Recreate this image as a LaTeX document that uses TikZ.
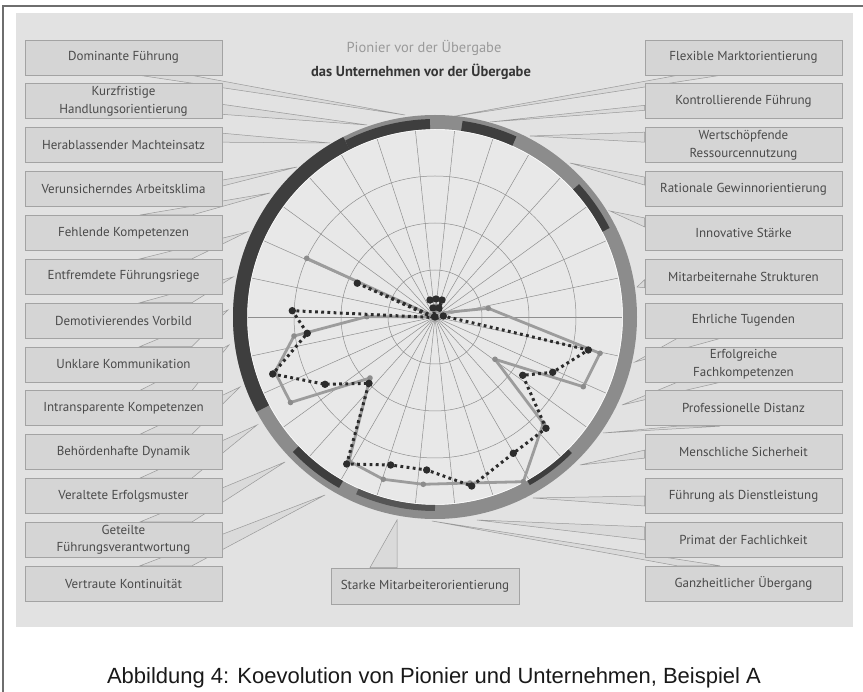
\documentclass[tikz,border=0pt]{standalone}
\usepackage{fontspec}
\setmainfont{PT Sans}
\newfontfamily\capfont{Liberation Sans}
\usetikzlibrary{calc}
\definecolor{framecol}{HTML}{6E6E6E}
\definecolor{panel}{HTML}{E2E2E2}
\definecolor{boxfill}{HTML}{D5D5D5}
\definecolor{boxline}{HTML}{A3A3A3}
\definecolor{tailfill}{HTML}{DADADA}
\definecolor{tailline}{HTML}{999999}
\definecolor{labeltext}{HTML}{4A4A4A}
\definecolor{face}{HTML}{E8E8E8}
\definecolor{gridcol}{HTML}{8E8E8E}
\definecolor{ringmid}{HTML}{8C8C8C}
\definecolor{ringdark}{HTML}{3E3E3E}
\definecolor{dotcol}{HTML}{2C2C2C}
\definecolor{graycol}{HTML}{9C9C9C}
\definecolor{titlegray}{HTML}{9A9A9A}
\definecolor{titledark}{HTML}{353535}
\pgfdeclarelayer{back}
\pgfdeclarelayer{tails}
\pgfsetlayers{back,tails,main}
\begin{document}
\begin{tikzpicture}[x=1pt,y=-1pt,
  labelbox/.style={draw=boxline, fill=boxfill, line width=0.8pt,
    minimum width=197pt, minimum height=35pt, inner sep=1pt, align=center,
    font=\fontsize{13}{17.5}\selectfont, text=labeltext},
  tailsty/.style={fill=tailfill, draw=tailline, line width=0.5pt},
  gridline/.style={draw=gridcol, line width=0.5pt},
  dotline/.style={draw=dotcol, line width=3pt, dash pattern=on 2.8pt off 3.4pt},
  grayline/.style={draw=graycol, line width=2.8pt, line join=round},
  darkdot/.style={fill=dotcol},
  graydot/.style={fill=graycol!90!black}]
\useasboundingbox (0,0) rectangle (863,692);
\clip (0,0) rectangle (863,692);

% frame and panel
\begin{pgfonlayer}{back}
  \draw[framecol, line width=1.3pt] (3,6) rectangle (890,720);
  \fill[panel] (16,13) rectangle (853,627);
\end{pgfonlayer}

% left column
\node[labelbox] (l1)  at (123.5,57.5)   {Dominante Führung};
\node[labelbox] (l2)  at (123.5,101.35) {Kurzfristige\\Handlungsorientierung};
\node[labelbox] (l3)  at (123.5,145.2)  {Herablassender Machteinsatz};
\node[labelbox] (l4)  at (123.5,189.05) {Verunsicherndes Arbeitsklima};
\node[labelbox] (l5)  at (123.5,232.9)  {Fehlende Kompetenzen};
\node[labelbox] (l6)  at (123.5,276.75) {Entfremdete Führungsriege};
\node[labelbox] (l7)  at (123.5,320.6)  {Demotivierendes Vorbild};
\node[labelbox] (l8)  at (123.5,364.45) {Unklare Kommunikation};
\node[labelbox] (l9)  at (123.5,408.3)  {Intransparente Kompetenzen};
\node[labelbox] (l10) at (123.5,452.15) {Behördenhafte Dynamik};
\node[labelbox] (l11) at (123.5,496)    {Veraltete Erfolgsmuster};
\node[labelbox] (l12) at (123.5,539.85) {Geteilte\\Führungsverantwortung};
\node[labelbox] (l13) at (123.5,583.7)  {Vertraute Kontinuität};

% right column
\node[labelbox] (r1)  at (743.5,57.5)   {Flexible Marktorientierung};
\node[labelbox] (r2)  at (743.5,101.35) {Kontrollierende Führung};
\node[labelbox] (r3)  at (743.5,145.2)  {Wertschöpfende\\Ressourcennutzung};
\node[labelbox] (r4)  at (743.5,189.05) {Rationale Gewinnorientierung};
\node[labelbox] (r5)  at (743.5,232.9)  {Innovative Stärke};
\node[labelbox] (r6)  at (743.5,276.75) {Mitarbeiternahe Strukturen};
\node[labelbox] (r7)  at (743.5,320.6)  {Ehrliche Tugenden};
\node[labelbox] (r8)  at (743.5,364.45) {Erfolgreiche\\Fachkompetenzen};
\node[labelbox] (r9)  at (743.5,408.3)  {Professionelle Distanz};
\node[labelbox] (r10) at (743.5,452.15) {Menschliche Sicherheit};
\node[labelbox] (r11) at (743.5,496)    {Führung als Dienstleistung};
\node[labelbox] (r12) at (743.5,539.85) {Primat der Fachlichkeit};
\node[labelbox] (r13) at (743.5,583.7)  {Ganzheitlicher Übergang};

% bottom label
\node[labelbox, minimum width=188pt, minimum height=36pt] (b) at (425,586) {Starke Mitarbeiterorientierung};

% pointer tips on the rim
\coordinate (tl1) at (405,115);  \coordinate (tl2) at (367,125);
\coordinate (tl3) at (330,143);  \coordinate (tl4) at (297,167);
\coordinate (tl5) at (270,193);  \coordinate (tl6) at (247,232);
\coordinate (tl7) at (233,277);  \coordinate (tl8) at (228,310);
\coordinate (tl9) at (229,345);  \coordinate (tl10) at (240,387);
\coordinate (tl11) at (257,425); \coordinate (tl12) at (285,462);
\coordinate (tl13) at (325,495);
\coordinate (tr1) at (450,117);  \coordinate (tr2) at (490,122);
\coordinate (tr3) at (530,136);  \coordinate (tr4) at (570,163);
\coordinate (tr5) at (610,211);  \coordinate (tr6) at (637,287);
\coordinate (tr7) at (635,362);  \coordinate (tr8) at (622,405);
\coordinate (tr9) at (603,433);  \coordinate (tr10) at (580,465);
\coordinate (tr11) at (533,498); \coordinate (tr12) at (477,520);
\coordinate (tr13) at (432,521);
\coordinate (tb) at (397,520);

% callout tails, kept behind the boxes
\begin{pgfonlayer}{tails}
  \filldraw[tailsty] ($(l1.south)+(16.5,0)$) -- ($(l1.south)+(68.5,0)$) -- (tl1) -- cycle;
  \filldraw[tailsty] ($(l2.east)+(0,3)$) -- ($(l2.east)+(0,13)$) -- (tl2) -- cycle;
  \filldraw[tailsty] ($(l3.east)+(0,-12)$) -- ($(l3.east)+(0,-3)$) -- (tl3) -- cycle;
  \filldraw[tailsty] ($(l4.east)+(0,-9)$) -- ($(l4.east)+(0,-3)$) -- (tl4) -- cycle;
  \foreach \i in {5,...,13}
    \filldraw[tailsty] ($(l\i.north)+(16.5,0)$) -- ($(l\i.north)+(68.5,0)$) -- (tl\i) -- cycle;
  \filldraw[tailsty] ($(r1.south)+(-66.5,0)$) -- ($(r1.south)+(-23.5,0)$) -- (tr1) -- cycle;
  \filldraw[tailsty] ($(r2.west)+(0,4)$) -- ($(r2.west)+(0,9)$) -- (tr2) -- cycle;
  \filldraw[tailsty] ($(r3.west)+(0,-13)$) -- ($(r3.west)+(0,-3)$) -- (tr3) -- cycle;
  \filldraw[tailsty] ($(r4.west)+(0,-12)$) -- ($(r4.west)+(0,-4)$) -- (tr4) -- cycle;
  \filldraw[tailsty] ($(r5.west)+(0,-15)$) -- ($(r5.west)+(0,-6)$) -- (tr5) -- cycle;
  \filldraw[tailsty] ($(r6.west)+(0,3)$) -- ($(r6.west)+(0,11)$) -- (tr6) -- cycle;
  \foreach \i in {7,8,9}
    \filldraw[tailsty] ($(r\i.south)+(-66.5,0)$) -- ($(r\i.south)+(-23.5,0)$) -- (tr\i) -- cycle;
  \filldraw[tailsty] ($(r10.west)+(0,-2)$) -- ($(r10.west)+(0,6)$) -- (tr10) -- cycle;
  \filldraw[tailsty] ($(r11.west)+(0,0)$) -- ($(r11.west)+(0,10)$) -- (tr11) -- cycle;
  \filldraw[tailsty] ($(r12.west)+(0,-13)$) -- ($(r12.west)+(0,0)$) -- (tr12) -- cycle;
  \filldraw[tailsty] ($(r13.north)+(-66.5,0)$) -- ($(r13.north)+(-23.5,0)$) -- (tr13) -- cycle;
  \filldraw[tailsty] ($(b.north)+(-55,0)$) -- ($(b.north)+(-28,0)$) -- (tb) -- cycle;
\end{pgfonlayer}

% titles
\node[font=\fontsize{14.5}{17}\selectfont, text=titlegray] (title1) at (424,48) {Pionier vor der Übergabe};
\node[font=\bfseries\fontsize{14.5}{17}\selectfont, text=titledark] (title2) at (421,72) {das Unternehmen vor der Übergabe};

% polar grid and rim
\begin{scope}[shift={(435,317)}, yscale=-1]
  \fill[face] (0,0) circle (190);
  \foreach \r in {47,94,141} \draw[gridline] (0,0) circle (\r);
  \foreach \a in {0,12,...,348} \draw[gridline] (0,0) -- (\a:188);
  \draw[white, line width=0.9pt] (0,0) circle (187.6);
  \draw[ringmid, line width=14pt] (0,0) circle (195);
  \draw[ringdark, line width=14pt] (117:195) arc[start angle=117, end angle=208, radius=195];
  \foreach \s/\e in {91.5/117, 65.7/82}
    \draw[ringdark, line width=10pt] (\s:193) arc[start angle=\s, end angle=\e, radius=193];
  \foreach \s/\e in {27/42.7, 223.5/240.7}
    \draw[ringdark, line width=8pt] (\s:192) arc[start angle=\s, end angle=\e, radius=192];
  \draw[ringdark, line width=5pt] (299.4:190.5) arc[start angle=299.4, end angle=315.2, radius=190.5];
  \draw[ringdark!70!ringmid, line width=6pt] (246:191) arc[start angle=246, end angle=270, radius=191];
\end{scope}

% series 1: solid grey profile
\draw[grayline] (306.7,258.3) -- (435,317) -- (366.7,316.7) -- (294,336) -- (275,372)
  -- (290.5,402.5) -- (370,378) -- (349,461) -- (383.3,479.3) -- (423.3,484.3)
  -- (470,483) -- (523.3,481.7) -- (543.3,423.3) -- (495,359.3) -- (583.3,386.7)
  -- (600,353.3) -- (488.3,308.3) -- (440,313) -- (436,306) -- (435,317) -- cycle;
\foreach \p in {(306.7,258.3),(366.7,316.7),(294,336),(275,372),(290.5,402.5),(370,378),
  (349,461),(383.3,479.3),(423.3,484.3),(470,483),(523.3,481.7),(543.3,423.3),
  (495,359.3),(583.3,386.7),(600,353.3),(488.3,308.3),(436,306)}
  \fill[graydot] \p circle (2.8);

% series 2: dotted dark profile
\draw[dotline] (357.3,283.2) -- (433,317.5) -- (292.3,310.7) -- (307.3,333.3) -- (272.7,374)
  -- (325,384.3) -- (369,383.3) -- (346.7,464) -- (390.7,465) -- (426.7,470)
  -- (471.7,486) -- (513.3,453.3) -- (546,428.3) -- (522.7,375.3) -- (552.7,372.3)
  -- (588.3,350) -- (443.3,316) -- (439,308) -- (442,300) -- (436,299) -- (430,300)
  -- (433,308) -- (435,317) -- cycle;
\foreach \p in {(357.3,283.2),(292.3,310.7),(307.3,333.3),(272.7,374),(325,384.3),
  (369,383.3),(346.7,464),(390.7,465),(426.7,470),(471.7,486),(513.3,453.3),
  (546,428.3),(522.7,375.3),(552.7,372.3),(588.3,350),(443.3,316),(439,308),
  (442,300),(436,299),(430,300),(433,308),(435,317)}
  \fill[darkdot] \p circle (3.7);

% caption
\node[font=\capfont\fontsize{22}{26}\selectfont, anchor=base, text=black!90] (caption) at (434,683)
  {Abbildung 4: Koevolution von Pionier und Unternehmen, Beispiel A};
\end{tikzpicture}
\end{document}
